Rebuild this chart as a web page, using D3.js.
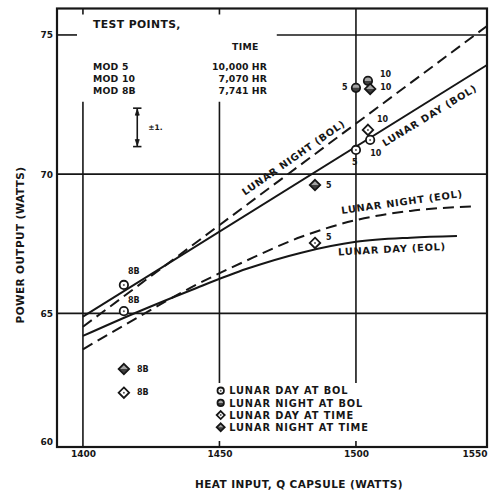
<!DOCTYPE html>
<html>
<head>
<meta charset="utf-8">
<script src="https://cdn.jsdelivr.net/npm/d3@7"></script>
<style>
	body { margin: 0; background: #fff; }
	text { font-family: "DejaVu Sans", sans-serif; font-weight: bold; fill: #161616; }
</style>
</head>
<body>
<div id="container"></div>
<script>
// axis ticks
const xTicks = [1400, 1450, 1500, 1550];
const yTicks = [60, 65, 70, 75];

// curves: [heat input Q (W), power output (W)]
const lunarDayBOL = [[1400, 64.88], [1548, 73.92]];
const lunarNightBOL = [[1400, 64.52], [1548, 75.32]];
const lunarDayEOL = [[1400, 64.19], [1420, 65.05], [1440, 65.85], [1460, 66.6], [1480, 67.18], [1500, 67.57], [1520, 67.72], [1537, 67.78]];
const lunarNightEOL = [[1400, 63.71], [1420, 64.85], [1440, 65.95], [1460, 66.9], [1480, 67.75], [1500, 68.35], [1520, 68.68], [1544, 68.85]];

// test points
const testPoints = [
	{ mod: "8B", q: 1415, p: 66.02, kind: "dayBOL" },
	{ mod: "8B", q: 1415, p: 65.08, kind: "dayBOL" },
	{ mod: "8B", q: 1415, p: 63.0, kind: "nightTime" },
	{ mod: "8B", q: 1415, p: 62.15, kind: "dayTime" },
	{ mod: "5", q: 1485, p: 69.61, kind: "nightTime" },
	{ mod: "5", q: 1485, p: 67.53, kind: "dayTime" },
	{ mod: "5", q: 1500, p: 70.87, kind: "dayBOL" },
	{ mod: "5", q: 1500, p: 73.1, kind: "nightBOL" },
	{ mod: "10", q: 1504.4, p: 73.35, kind: "nightBOL" },
	{ mod: "10", q: 1505.2, p: 73.06, kind: "nightTime" },
	{ mod: "10", q: 1504.4, p: 71.59, kind: "dayTime" },
	{ mod: "10", q: 1505.2, p: 71.23, kind: "dayBOL" }
];
// where each point's label sits, px from the point
const labelShift = [[4, -13], [4, -11], [13, 0], [13, 0], [11, 0], [11, -5], [-4, 13], [-14, 0], [12, -6], [10, -1], [9, -10], [0, 14]];

const legendItems = [
	{ kind: "dayBOL", text: "LUNAR DAY AT BOL" },
	{ kind: "nightBOL", text: "LUNAR NIGHT AT BOL" },
	{ kind: "dayTime", text: "LUNAR DAY AT TIME" },
	{ kind: "nightTime", text: "LUNAR NIGHT AT TIME" }
];

const modNames = ["MOD 5", "MOD 10", "MOD 8B"];
const modTimes = ["10,000 HR", "7,070 HR", "7,741 HR"];

const errorBar = { q: 1419.9, p: 71.68, half: 0.69 };

function draw() {
	const W = 489, H = 490;

	const svg = d3.select("#container").append("svg")
		.attr("width", W)
		.attr("height", H);

	svg.append("rect").attr("width", W).attr("height", H).attr("fill", "#fff");

	const x = d3.scaleLinear().domain([1390.5, 1548]).range([57, 487]);
	const y = d3.scaleLinear().domain([60.2, 75.95]).range([447, 8.5]);

	const ink = "#161616";

	let grid = svg.append("g").attr("class", "grid")
		.attr("stroke", ink).attr("stroke-width", 1.6).attr("fill", "none");

	// horizontal rules
	[65, 70].forEach(v => {
		grid.append("line").attr("x1", x.range()[0]).attr("x2", x.range()[1])
			.attr("y1", y(v)).attr("y2", y(v));
	});
	grid.append("line").attr("x1", x(1471)).attr("x2", x.range()[1]).attr("y1", y(75)).attr("y2", y(75));
	grid.append("line").attr("x1", x.range()[0]).attr("x2", x.range()[0] + 20).attr("y1", y(75)).attr("y2", y(75));

	// vertical rules
	grid.append("line").attr("x1", x(1400)).attr("x2", x(1400)).attr("y1", y(72.6)).attr("y2", y.range()[0]);
	grid.append("line").attr("x1", x(1450)).attr("x2", x(1450)).attr("y1", y(72.6)).attr("y2", y(62.5));
	grid.append("line").attr("x1", x(1500)).attr("x2", x(1500)).attr("y1", y.range()[1]).attr("y2", y(62.5));
	[1400, 1450].forEach(v => {
		grid.append("line").attr("x1", x(v)).attr("x2", x(v)).attr("y1", y.range()[1]).attr("y2", y.range()[1] + 6);
	});
	[1450, 1500].forEach(v => {
		grid.append("line").attr("x1", x(v)).attr("x2", x(v)).attr("y1", y.range()[0]).attr("y2", y.range()[0] - 6);
	});

	// frame
	svg.append("rect")
		.attr("x", x.range()[0]).attr("y", y.range()[1])
		.attr("width", x.range()[1] - x.range()[0])
		.attr("height", y.range()[0] - y.range()[1])
		.attr("fill", "none").attr("stroke", ink).attr("stroke-width", 2.2);

	// axes (labels only)
	const xAxis = svg.append("g")
		.attr("transform", "translate(0," + y.range()[0] + ")")
		.call(d3.axisBottom(x).tickValues(xTicks).tickFormat(d3.format("d")).tickSize(0).tickPadding(4));
	xAxis.select(".domain").remove();
	xAxis.selectAll("text").attr("font-size", 9).attr("font-family", null).attr("fill", null);
	xAxis.selectAll(".tick").filter(d => d === 1550).select("text")
		.attr("text-anchor", "end")
		.attr("x", x.range()[1] - x(1550));

	const yAxis = svg.append("g")
		.attr("transform", "translate(" + x.range()[0] + ",0)")
		.call(d3.axisLeft(y).tickValues(yTicks).tickFormat(d3.format("d")).tickSize(0).tickPadding(4));
	yAxis.select(".domain").remove();
	yAxis.selectAll("text").attr("font-size", 9).attr("font-family", null).attr("fill", null);
	yAxis.selectAll(".tick").filter(d => d === 60).select("text").attr("dy", "-0.9em");

	// axis titles
	svg.append("text")
		.attr("transform", "translate(20,245) rotate(-90)")
		.attr("text-anchor", "middle").attr("dominant-baseline", "central")
		.attr("font-size", 10.5).attr("letter-spacing", 0.4)
		.text("POWER OUTPUT (WATTS)");

	svg.append("text")
		.attr("x", 299).attr("y", 488)
		.attr("text-anchor", "middle")
		.attr("font-size", 10.5).attr("letter-spacing", 0.4)
		.text("HEAT INPUT, Q CAPSULE (WATTS)");

	// curves
	const line = d3.line().x(d => x(d[0])).y(d => y(d[1]));
	const curve = d3.line().x(d => x(d[0])).y(d => y(d[1])).curve(d3.curveMonotoneX);

	let curves = svg.append("g").attr("class", "curves").attr("fill", "none").attr("stroke", ink).attr("stroke-width", 2);
	curves.append("path").attr("d", line(lunarDayBOL));
	curves.append("path").attr("d", line(lunarNightBOL)).attr("stroke-dasharray", "11,6");
	curves.append("path").attr("d", curve(lunarDayEOL));
	curves.append("path").attr("d", curve(lunarNightEOL)).attr("stroke-dasharray", "11,6");

	// curve labels
	const curveLabels = [
		{ text: "LUNAR NIGHT (BOL)", at: [1459.4, 69.22], angle: -35 },
		{ text: "LUNAR DAY (BOL)", at: [1510.6, 70.98], angle: -31.5 },
		{ text: "LUNAR NIGHT (EOL)", at: [1494.8, 68.57], angle: -8 },
		{ text: "LUNAR DAY (EOL)", at: [1493.5, 67.08], angle: -3 }
	];
	svg.append("g").selectAll("text")
		.data(curveLabels)
		.enter()
		.append("text")
		.attr("transform", d => "translate(" + x(d.at[0]) + "," + y(d.at[1]) + ") rotate(" + d.angle + ")")
		.attr("font-size", 9.8).attr("letter-spacing", 0.8)
		.text(d => d.text);

	// symbols
	let defs = svg.append("defs");
	defs.append("clipPath").attr("id", "lowerHalf")
		.append("rect").attr("x", -10).attr("y", 0).attr("width", 20).attr("height", 10);

	function symbol(g, kind, r) {
		const isDiamond = kind === "dayTime" || kind === "nightTime";
		const isNight = kind === "nightBOL" || kind === "nightTime";
		const shape = () => isDiamond
			? g.append("path").attr("d", "M0," + (-r * 1.25) + "L" + (r * 1.25) + ",0L0," + (r * 1.25) + "L" + (-r * 1.25) + ",0Z")
			: g.append("circle").attr("r", r);

		if (isNight) {
			shape().attr("fill", "#a4a4a4");
			shape().attr("fill", "#404040").attr("clip-path", "url(#lowerHalf)");
			shape().attr("fill", "none").attr("stroke", ink).attr("stroke-width", 1.8);
		} else {
			shape().attr("fill", "#fff").attr("stroke", ink).attr("stroke-width", 1.8);
			g.append("circle").attr("r", 1).attr("fill", "#555");
		}
	}

	let points = svg.append("g").attr("class", "points");
	testPoints.forEach((d, i) => {
		let g = points.append("g").attr("transform", "translate(" + x(d.q) + "," + y(d.p) + ")");
		symbol(g, d.kind, 4.2);
		points.append("text")
			.attr("x", x(d.q) + labelShift[i][0])
			.attr("y", y(d.p) + labelShift[i][1])
			.attr("dominant-baseline", "central")
			.attr("font-size", 8)
			.text(d.mod);
	});

	// legend
	let legend = svg.append("g").attr("class", "legend");
	legendItems.forEach((d, i) => {
		let row = legend.append("g").attr("transform", "translate(220.7," + (390.7 + i * 12.2) + ")");
		symbol(row, d.kind, 3.2);
		row.append("text")
			.attr("x", 8.5).attr("y", 3.6)
			.attr("font-size", 9.8).attr("letter-spacing", 0.9)
			.text(d.text);
	});

	// test points table
	let table = svg.append("g").attr("class", "table");
	table.append("text").attr("x", 93).attr("y", 27.5).attr("font-size", 10.8).attr("letter-spacing", 0.4).text("TEST POINTS,");
	table.append("text").attr("x", 232).attr("y", 50).attr("font-size", 9.3).attr("letter-spacing", 0.3).text("TIME");
	modNames.forEach((m, i) => {
		table.append("text").attr("x", 93).attr("y", 70 + i * 11.8).attr("font-size", 9.3).attr("letter-spacing", 0.2).text(m);
		table.append("text").attr("x", 267).attr("y", 70 + i * 11.8).attr("text-anchor", "end")
			.attr("font-size", 9.3).attr("letter-spacing", 0.1).text(modTimes[i]);
	});

	// error bar (+/- 1)
	let eb = svg.append("g").attr("stroke", ink).attr("stroke-width", 1.6).attr("fill", ink);
	const ex = x(errorBar.q), eTop = y(errorBar.p + errorBar.half), eBot = y(errorBar.p - errorBar.half);
	eb.append("line").attr("x1", ex).attr("x2", ex).attr("y1", eTop).attr("y2", eBot);
	eb.append("line").attr("x1", ex - 4.2).attr("x2", ex + 4.2).attr("y1", eTop).attr("y2", eTop);
	eb.append("line").attr("x1", ex - 4.2).attr("x2", ex + 4.2).attr("y1", eBot).attr("y2", eBot);
	eb.append("path").attr("stroke-width", 0.8)
		.attr("d", "M" + ex + "," + (eTop + 1) + "l-2,6l4,0Z M" + ex + "," + (eBot - 1) + "l-2,-6l4,0Z");
	svg.append("text").attr("x", ex + 11).attr("y", (eTop + eBot) / 2 + 3)
		.attr("font-size", 7.5).text("\u00b11.");
}

window.addEventListener("load", draw);
</script>
</body>
</html>
